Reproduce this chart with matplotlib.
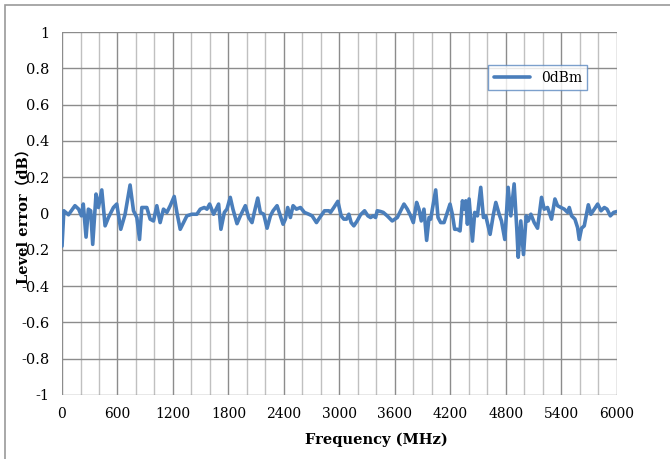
import matplotlib.pyplot as plt
from matplotlib.patches import Rectangle

# frequency (MHz) and level error (dB)
freq = [0, 20, 70, 140, 180, 210, 230, 260, 285, 310, 332, 368, 394, 430, 466,
        502, 556, 592, 635, 682, 736, 773, 809, 838, 863, 917, 953, 989, 1025,
        1061, 1097, 1134, 1170, 1213, 1242, 1278, 1314, 1350, 1404, 1458, 1495,
        1538, 1567, 1596, 1639, 1675, 1693, 1718, 1755, 1783, 1819, 1848, 1892,
        1928, 1982, 2018, 2054, 2079, 2116, 2144, 2181, 2217, 2253, 2282, 2325,
        2361, 2390, 2415, 2440, 2469, 2498, 2534, 2578, 2621, 2668, 2704, 2751,
        2787, 2838, 2884, 2903, 2939, 2982, 3018, 3047, 3076, 3101, 3126, 3155,
        3191, 3227, 3271, 3307, 3336, 3364, 3390, 3408, 3444, 3473, 3516, 3570,
        3625, 3661, 3697, 3733, 3769, 3798, 3834, 3859, 3884, 3913, 3942, 3968,
        3986, 4004, 4040, 4065, 4094, 4130, 4166, 4195, 4220, 4245, 4274, 4303,
        4329, 4347, 4365, 4383, 4401, 4437, 4462, 4491, 4527, 4556, 4581, 4628,
        4664, 4690, 4726, 4751, 4787, 4823, 4852, 4888, 4917, 4932, 4960, 4989,
        5018, 5040, 5069, 5105, 5141, 5184, 5213, 5249, 5292, 5329, 5357, 5394,
        5430, 5466, 5484, 5509, 5545, 5574, 5592, 5617, 5646, 5690, 5718, 5754,
        5791, 5827, 5863, 5892, 5928, 5964, 6000]
level = [-0.18, 0.015, -0.007, 0.043, 0.024, -0.013, 0.052, -0.13, 0.024, 0.015,
         -0.17, 0.107, 0.033, 0.13, -0.068, -0.022, 0.033, 0.052, -0.087, -0.004,
         0.157, 0.015, -0.022, -0.143, 0.033, 0.033, -0.031, -0.041, 0.043,
         -0.05, 0.024, 0.006, 0.043, 0.094, 0.006, -0.087, -0.05, -0.013, -0.004,
         -0.004, 0.024, 0.033, 0.024, 0.052, -0.004, 0.033, 0.052, -0.087, 0.006,
         0.024, 0.089, 0.024, -0.056, -0.013, 0.043, -0.022, -0.05, 0.006, 0.085,
         0.006, -0.004, -0.081, -0.013, 0.015, 0.043, -0.013, -0.059, -0.031,
         0.033, -0.022, 0.043, 0.024, 0.033, 0.006, -0.004, -0.013, -0.05,
         -0.022, 0.015, 0.015, 0.006, 0.033, 0.067, -0.013, -0.031, -0.031,
         -0.004, -0.05, -0.068, -0.041, -0.007, 0.015, -0.013, -0.022, -0.013,
         -0.022, 0.015, 0.011, 0.006, -0.013, -0.041, -0.022, 0.015, 0.052,
         0.024, -0.013, -0.05, 0.061, 0.024, -0.041, 0.024, -0.148, -0.022,
         -0.031, 0.024, 0.13, -0.022, -0.05, -0.05, 0.006, 0.052, -0.004, -0.087,
         -0.087, -0.096, 0.07, 0.024, 0.07, -0.059, 0.08, -0.152, 0.006, -0.013,
         0.144, -0.022, -0.013, -0.115, -0.004, 0.061, -0.004, -0.041, -0.143,
         0.144, -0.013, 0.163, -0.087, -0.241, -0.041, -0.226, -0.013, -0.041,
         -0.004, -0.05, -0.081, 0.089, 0.024, 0.033, -0.031, 0.08, 0.043, 0.033,
         0.024, 0.006, 0.033, -0.013, -0.031, -0.078, -0.143, -0.081, -0.068,
         0.048, -0.004, 0.024, 0.052, 0.015, 0.033, 0.024, -0.013, 0.006, 0.011]

x_major = list(range(0, 6001, 600))
x_minor = list(range(0, 6001, 200))
y_ticks = [-1, -0.8, -0.6, -0.4, -0.2, 0, 0.2, 0.4, 0.6, 0.8, 1]
y_labels = ["-1", "-0.8", "-0.6", "-0.4", "-0.2", "0", "0.2", "0.4", "0.6", "0.8", "1"]

plt.rcParams["font.family"] = ["DejaVu Serif"]


def main():
    fig = plt.figure(figsize=(6.7, 4.59), dpi=100)
    # chart area border (only top/left visible in the cropped reference)
    fig.patches.append(Rectangle((5 / 670, -0.1), 2, 1.1 - 5 / 459, transform=fig.transFigure,
                                 fill=False, edgecolor="#9a9a9a", linewidth=1.2))

    ax = fig.add_axes([62 / 670, 1 - 395 / 459, (617 - 62) / 670, (395 - 32) / 459])
    ax.set_xlim(0, 6000)
    ax.set_ylim(-1, 1)

    for x in x_minor:
        if x % 600:
            ax.axvline(x, color="#c0c0c0", linewidth=1.0, zorder=0)
    for x in x_major:
        ax.axvline(x, color="#8c8c8c", linewidth=1.0, zorder=0)
    for y in y_ticks:
        ax.axhline(y, color="#8c8c8c", linewidth=1.0, zorder=0)

    ax.plot(freq, level, color="#4A7EBB", linewidth=2.6, solid_joinstyle="round",
            solid_capstyle="round", label="0dBm", zorder=3)

    ax.set_xticks(x_major)
    ax.set_xticklabels([str(v) for v in x_major], fontsize=10)
    ax.set_yticks(y_ticks)
    ax.set_yticklabels(y_labels, fontsize=10.5)
    ax.tick_params(length=0, pad=9)
    for s in ax.spines.values():
        s.set_visible(False)

    leg = ax.legend(loc="upper left", bbox_to_anchor=((488 - 62) / 555, (395 - 65) / 363),
                    fontsize=10, frameon=True, fancybox=False, handlelength=2.6,
                    borderpad=0.4, borderaxespad=0)
    leg.get_frame().set_edgecolor("#5b88c0")
    leg.get_frame().set_linewidth(1.0)

    fig.text(376 / 670, 1 - 440 / 459, "Frequency (MHz)", ha="center", va="center",
             fontsize=10.5, fontweight="bold")
    fig.text(24 / 670, 1 - 213 / 459, "Level error（dB）", ha="center", va="center",
             rotation=90, fontsize=10.5, fontweight="bold",
             family=["DejaVu Serif", "Noto Sans CJK SC"])

    fig.savefig("out.png", dpi=100)


if __name__ == "__main__":
    main()
